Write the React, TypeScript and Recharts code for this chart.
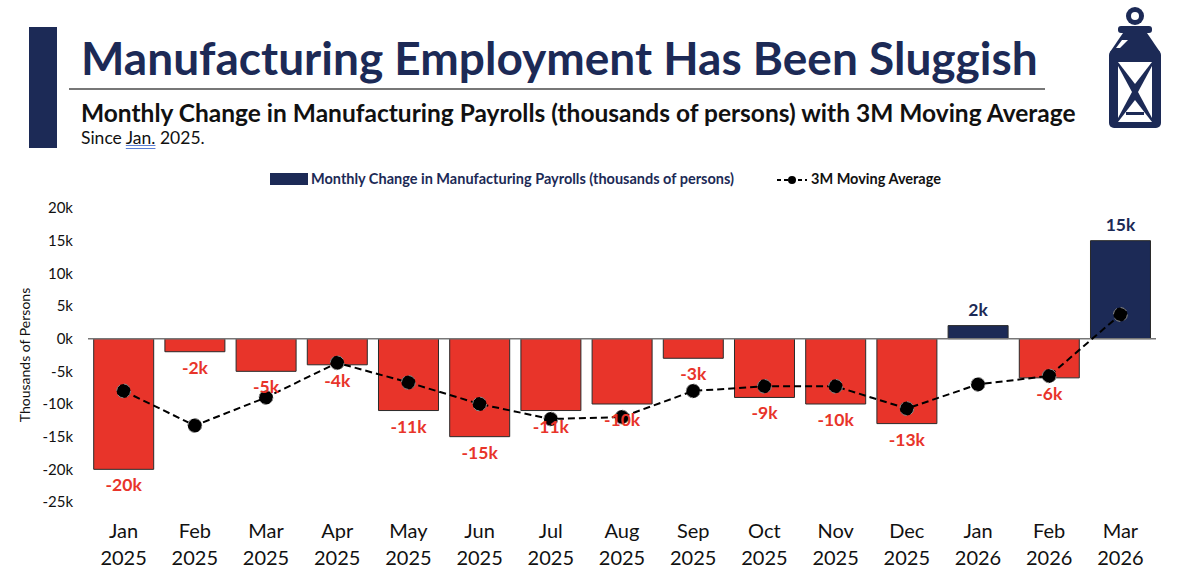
import React from "react"
import {
  Bar,
  Cell,
  ComposedChart,
  LabelList,
  Legend,
  Line,
  ReferenceLine,
  XAxis,
  YAxis,
} from "recharts"

const months = [
  "Jan 2025", "Feb 2025", "Mar 2025", "Apr 2025", "May 2025", "Jun 2025", "Jul 2025",
  "Aug 2025", "Sep 2025", "Oct 2025", "Nov 2025", "Dec 2025", "Jan 2026", "Feb 2026", "Mar 2026",
]
const payrollChange = [-20, -2, -5, -4, -11, -15, -11, -10, -3, -9, -10, -13, 2, -6, 15]
const movingAvg = [-8, -13.3, -9, -3.7, -6.7, -10, -12.3, -12, -8, -7.3, -7.3, -10.7, -7, -5.7, 3.7]
const yTicks = [20, 15, 10, 5, 0, -5, -10, -15, -20, -25]

const NAVY = "#1c2a56"
const RED = "#e8342a"
const FONT = "Lato, 'Open Sans', sans-serif"

const data = months.map((m, i) => ({ month: m, change: payrollChange[i], ma: movingAvg[i] }))

function MonthTick(props: any) {
  const { x, y, payload } = props
  const [mon, yr] = String(payload.value).split(" ")
  return (
    <text x={x} y={y} textAnchor="middle" fontFamily={FONT} fontSize={20} fill="#111">
      <tspan x={x} dy={28}>{mon}</tspan>
      <tspan x={x} dy={27}>{yr}</tspan>
    </text>
  )
}

function ValueLabel(props: any) {
  const { x, y, width, height, value } = props
  const top = Math.min(y, y + height)
  const bottom = Math.max(y, y + height)
  const neg = value < 0
  return (
    <text
      x={x + width / 2}
      y={neg ? bottom + 22 : top - 10}
      textAnchor="middle"
      fontFamily={FONT}
      fontWeight={700}
      fontSize={17.5}
      fill={neg ? RED : NAVY}
    >
      {`${value}k`}
    </text>
  )
}

function LegendContent() {
  return (
    <div style={{ position: "relative", height: 20, fontFamily: FONT, fontSize: 14.5, fontWeight: 700 }}>
      <div style={{ position: "absolute", left: 270, top: 3, width: 38, height: 12, background: NAVY }} />
      <span style={{ position: "absolute", left: 311, top: 0, color: NAVY }}>
        Monthly Change in Manufacturing Payrolls (thousands of persons)
      </span>
      <svg style={{ position: "absolute", left: 776, top: 2 }} width={32} height={16}>
        <line x1={1} y1={8} x2={31} y2={8} stroke="#000" strokeWidth={2} strokeDasharray="4 3" />
        <circle cx={16} cy={8} r={4} fill="#000" />
      </svg>
      <span style={{ position: "absolute", left: 811, top: 0, color: "#111" }}>3M Moving Average</span>
    </div>
  )
}

function Lantern() {
  return (
    <svg style={{ position: "absolute", left: 1090, top: 0 }} width={100} height={140}>
      <circle cx={45} cy={16} r={9} fill={NAVY} />
      <circle cx={45} cy={16} r={4} fill="#fff" />
      <rect x={28} y={26} width={34} height={7} rx={3} fill={NAVY} />
      <polygon points="33,33 57,33 70,52 20,52" fill={NAVY} />
      <rect x={19} y={50} width={52} height={78} rx={5} fill={NAVY} />
      <polygon points="28,62 62,62 45,84" fill="#fff" />
      <polygon points="28,122 62,122 45,100" fill="#fff" />
      <polygon points="28,66 42,92 28,118" fill="#fff" />
      <polygon points="62,66 48,92 62,118" fill="#fff" />
      <rect x={36} y={112} width={18} height={3} fill={NAVY} />
      <polygon points="32,40 38,40 30,48 26,48" fill="#fff" />
    </svg>
  )
}

export default function App() {
  return (
    <div
      style={{
        position: "absolute",
        left: 0,
        top: 0,
        width: 1200,
        height: 585,
        background: "#fff",
        overflow: "hidden",
        fontFamily: FONT,
      }}
    >
      <div style={{ position: "absolute", left: 29, top: 27, width: 28, height: 121, background: NAVY }} />
      <div
        style={{
          position: "absolute",
          left: 81,
          top: 35,
          fontSize: 46,
          fontWeight: 700,
          color: NAVY,
          whiteSpace: "nowrap",
          lineHeight: "46px",
        }}
      >
        Manufacturing Employment Has Been Sluggish
      </div>
      <div style={{ position: "absolute", left: 69, top: 88, width: 976, height: 2, background: "#777" }} />
      <div
        style={{
          position: "absolute",
          left: 81,
          top: 98,
          fontSize: 24.5,
          fontWeight: 700,
          color: "#111",
          whiteSpace: "nowrap",
        }}
      >
        Monthly Change in Manufacturing Payrolls (thousands of persons) with 3M Moving Average
      </div>
      <div style={{ position: "absolute", left: 81, top: 127, fontSize: 17.5, color: "#111", whiteSpace: "nowrap" }}>
        Since{" "}
        <span style={{ textDecoration: "underline", textDecorationColor: "#5b7fd6", textDecorationStyle: "double" }}>
          Jan.
        </span>{" "}
        2025.
      </div>
      <Lantern />
      <div
        style={{
          position: "absolute",
          left: 10,
          top: 355,
          transform: "translate(-50%, -50%) rotate(-90deg)",
          transformOrigin: "center",
          marginLeft: 14,
          fontSize: 14,
          color: "#111",
          whiteSpace: "nowrap",
        }}
      >
        Thousands of Persons
      </div>
      <div style={{ position: "absolute", left: 0, top: 0 }}>
        <ComposedChart
          width={1200}
          height={585}
          data={data}
          margin={{ top: 188, right: 44, bottom: 0, left: 28 }}
          barCategoryGap="8%"
        >
          <Legend
            verticalAlign="top"
            content={() => <LegendContent />}
            wrapperStyle={{ position: "absolute", top: 170, left: 0, width: 1200 }}
          />
          <XAxis
            dataKey="month"
            axisLine={false}
            tickLine={false}
            interval={0}
            height={83}
            tick={<MonthTick />}
          />
          <YAxis
            domain={[-25, 20]}
            ticks={yTicks}
            width={60}
            axisLine={false}
            tickLine={false}
            tickSize={0}
            tickMargin={15}
            tick={{ fontFamily: FONT, fontSize: 15, fill: "#111" }}
            tickFormatter={(v) => `${v}k`}
          />
          <ReferenceLine y={0} stroke="#777" strokeWidth={1.5} />
          <Bar dataKey="change" isAnimationActive={false} stroke="#2a2a2a" strokeWidth={1}>
            {data.map((d, i) => (
              <Cell key={i} fill={d.change < 0 ? RED : NAVY} />
            ))}
            <LabelList dataKey="change" content={<ValueLabel />} />
          </Bar>
          <Line
            dataKey="ma"
            type="linear"
            stroke="#000"
            strokeWidth={2}
            strokeDasharray="7 4"
            dot={{ r: 7, fill: "#000", stroke: "#888", strokeWidth: 1 }}
            activeDot={false}
            isAnimationActive={false}
          />
        </ComposedChart>
      </div>
    </div>
  )
}
